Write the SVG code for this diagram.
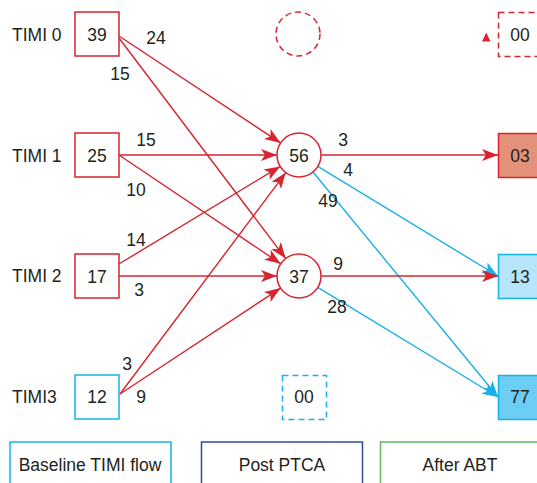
<svg xmlns="http://www.w3.org/2000/svg" width="537" height="483" viewBox="0 0 537 483">
<style>
text{font-family:"Liberation Sans",Arial,sans-serif;font-size:17.5px;fill:#231f20}
.m{text-anchor:middle}
.rbox{fill:#fff;stroke:#d7242e;stroke-width:1.5}
.bbox{fill:#fff;stroke:#1ab0e8;stroke-width:1.5}
.r{stroke:#d7242e;stroke-width:1.4;fill:none}
.b{stroke:#1ab0e8;stroke-width:1.4;fill:none}
</style>
<defs>
<marker id="ar" markerUnits="userSpaceOnUse" markerWidth="16" markerHeight="12" viewBox="0 0 16 12" refX="16" refY="6" orient="auto">
<path d="M0,0 L16,6 L0,12 L4,6 z" fill="#d7242e"/>
</marker>
<marker id="ab" markerUnits="userSpaceOnUse" markerWidth="16" markerHeight="12" viewBox="0 0 16 12" refX="16" refY="6" orient="auto">
<path d="M0,0 L16,6 L0,12 L4,6 z" fill="#1ab0e8"/>
</marker>
</defs>
<g id="connectors">
<line class="r" x1="119" y1="36" x2="280.6" y2="142.9" marker-end="url(#ar)"/>
<line class="r" x1="119" y1="38" x2="285.7" y2="258.5" marker-end="url(#ar)"/>
<line class="r" x1="119" y1="155" x2="277" y2="155" marker-end="url(#ar)"/>
<line class="r" x1="119" y1="155" x2="280.7" y2="263.7" marker-end="url(#ar)"/>
<line class="r" x1="119" y1="264" x2="280.2" y2="166.4" marker-end="url(#ar)"/>
<line class="r" x1="119" y1="276" x2="277" y2="276" marker-end="url(#ar)"/>
<line class="r" x1="120" y1="394" x2="285.8" y2="172.6" marker-end="url(#ar)"/>
<line class="r" x1="120" y1="394" x2="280.6" y2="288.1" marker-end="url(#ar)"/>
<line class="r" x1="321" y1="155" x2="498" y2="155" marker-end="url(#ar)"/>
<line class="b" x1="317.8" y1="166.4" x2="498" y2="276" marker-end="url(#ab)"/>
<line class="b" x1="313" y1="172" x2="498" y2="397" marker-end="url(#ab)"/>
<line class="r" x1="321" y1="276" x2="498" y2="276" marker-end="url(#ar)"/>
<line class="b" x1="317.8" y1="287.4" x2="498" y2="397" marker-end="url(#ab)"/>
<text class="m" x="156" y="44">24</text>
<text class="m" x="120" y="80">15</text>
<text class="m" x="146" y="146">15</text>
<text class="m" x="136" y="196">10</text>
<text class="m" x="136" y="246">14</text>
<text class="m" x="139" y="296">3</text>
<text class="m" x="127" y="370">3</text>
<text class="m" x="141" y="403">9</text>
<text class="m" x="343" y="146">3</text>
<text class="m" x="348" y="176">4</text>
<text class="m" x="328" y="207">49</text>
<text class="m" x="338" y="270">9</text>
<text class="m" x="337" y="313">28</text>
</g>
<g id="label-timi0"><text x="12" y="41">TIMI 0</text></g>
<g id="label-timi1"><text x="12" y="162">TIMI 1</text></g>
<g id="label-timi2"><text x="12" y="282">TIMI 2</text></g>
<g id="label-timi3"><text x="12" y="403">TIMI3</text></g>
<g id="n39"><rect class="rbox" x="75" y="12" width="44" height="44"/><text class="m" x="97" y="41">39</text></g>
<g id="n25"><rect class="rbox" x="75" y="133" width="44" height="44"/><text class="m" x="97" y="162">25</text></g>
<g id="n17"><rect class="rbox" x="75" y="254" width="44" height="44"/><text class="m" x="97" y="283">17</text></g>
<g id="n12"><rect class="bbox" x="75" y="375" width="44" height="44"/><text class="m" x="97" y="403">12</text></g>
<g id="c-empty"><circle cx="298" cy="34" r="22" fill="none" stroke="#d7242e" stroke-width="1.5" stroke-dasharray="6 4"/></g>
<g id="c56"><circle cx="299" cy="155" r="22" fill="#fff" stroke="#d7242e" stroke-width="1.5"/><text class="m" x="299" y="162">56</text></g>
<g id="c37"><circle cx="299" cy="276" r="22" fill="#fff" stroke="#d7242e" stroke-width="1.5"/><text class="m" x="299" y="283">37</text></g>
<g id="b00post"><rect x="282.5" y="375.5" width="44" height="44" fill="none" stroke="#1ab0e8" stroke-width="1.5" stroke-dasharray="6 4"/><text class="m" x="304" y="403">00</text></g>
<g id="tri"><polygon points="482,41.5 490.5,41.5 486.3,32.5" fill="#d7242e"/></g>
<g id="a00"><rect x="498.5" y="12.5" width="44" height="44" fill="none" stroke="#d7242e" stroke-width="1.5" stroke-dasharray="6 4"/><text class="m" x="520" y="41">00</text></g>
<g id="a03"><rect x="498.5" y="133.5" width="44" height="44" fill="#e3917a" stroke="#d7242e" stroke-width="1.5"/><text class="m" x="520" y="162">03</text></g>
<g id="a13"><rect x="498.5" y="254.5" width="44" height="44" fill="#b7e5f9" stroke="#1ab0e8" stroke-width="1.5"/><text class="m" x="520" y="283">13</text></g>
<g id="a77"><rect x="498.5" y="375.5" width="44" height="44" fill="#6ccdf5" stroke="#1ab0e8" stroke-width="1.5"/><text class="m" x="520" y="403">77</text></g>
<g id="leg-baseline"><rect x="10" y="442" width="161" height="50" fill="none" stroke="#1ab0e8" stroke-width="1.5"/><text class="m" x="90" y="471">Baseline TIMI flow</text></g>
<g id="leg-post"><rect x="201.5" y="442" width="161" height="50" fill="none" stroke="#2e4a9b" stroke-width="1.5"/><text class="m" x="282" y="471">Post PTCA</text></g>
<g id="leg-after"><rect x="380.5" y="442" width="161" height="50" fill="none" stroke="#5cb85c" stroke-width="1.5"/><text class="m" x="460" y="471">After ABT</text></g>
</svg>
